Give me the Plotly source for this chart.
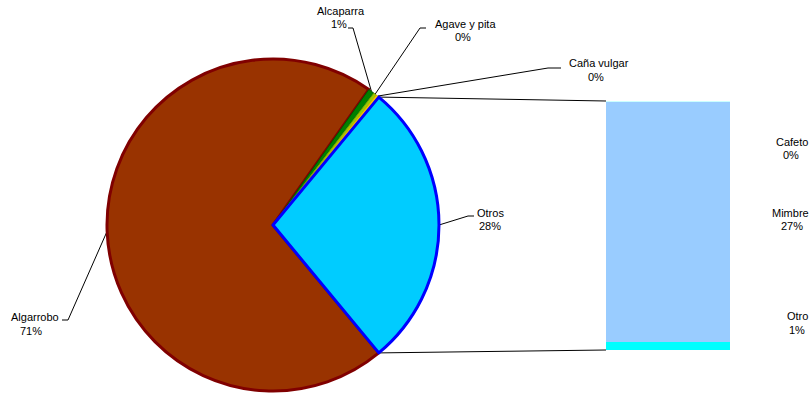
import math
import plotly.graph_objects as go

# data (percent of total)
pie_names = ["Algarrobo", "Alcaparra", "Agave y pita", "Caña vulgar", "Otros"]
bar_names = ["Otro", "Mimbre", "Cafeto"]          # bottom -> top of the bar
bar_values = [0.9, 27.07, 0.03]
pie_main_values = [70.8, 0.6, 0.3, 0.3]
pie_values = pie_main_values + [sum(bar_values)]   # "Otros" = whole bar

total = sum(pie_values)

pie_colors = ["#993300", "#008000", "#99CC00", "#FFCC00", "#00CCFF"]
pie_line_colors = ["#800000", "#005800", "#77A000", "#E0A800", "#0000FF"]
pie_line_widths = [3, 1, 1, 1, 3]
bar_colors = ["#00FFFF", "#99CCFF", "#CCFFFF"]

W, H = 811, 396
CX, CY, R = 273, 225, 166
BAR_L, BAR_R, BAR_T, BAR_B = 606, 730, 101, 350
FONT = "Liberation Sans, Arial, sans-serif"

# pie rotated so that "Otros" is centred on the right (3 o'clock)
rotation = 90 + 180 * pie_values[-1] / total


def edge(theta):
    t = math.radians(theta)
    return CX + R * math.sin(t), CY - R * math.cos(t)


# slice start/mid angles (clockwise from 12 o'clock)
starts, mids = [], []
a = rotation
for v in pie_values:
    span = 360 * v / total
    starts.append(a)
    mids.append(a + span / 2)
    a += span

fig = go.Figure()

fig.add_trace(go.Pie(
    labels=pie_names, values=pie_values, sort=False, direction="clockwise",
    rotation=rotation, textinfo="none", hoverinfo="label+percent",
    marker=dict(colors=pie_colors,
                line=dict(color=pie_line_colors, width=pie_line_widths)),
    domain=dict(x=[(CX - R) / W, (CX + R) / W],
                y=[1 - (CY + R) / H, 1 - (CY - R) / H]),
    showlegend=False,
))

for name, v, c in zip(bar_names, bar_values, bar_colors):
    fig.add_trace(go.Bar(x=[0], y=[v], width=1, name=name, marker_color=c,
                         marker_line_width=0, showlegend=False,
                         xaxis="x", yaxis="y"))

# leader lines: text end -> elbow -> slice edge
leaders = {
    "Algarrobo": [(62, 320), (68, 320)],
    "Alcaparra": [(348, 28), (353, 28)],
    "Agave y pita": [(426, 28), (420, 28)],
    "Caña vulgar": [(561, 68), (548, 68)],
    "Otros": [(474, 216), (468, 216)],
}
for i, name in enumerate(pie_names):
    pts = leaders[name] + [edge(mids[i])]
    fig.add_trace(go.Scatter(x=[p[0] for p in pts], y=[p[1] for p in pts],
                             mode="lines", line=dict(color="black", width=1),
                             hoverinfo="skip", showlegend=False,
                             xaxis="x2", yaxis="y2"))

# connectors from the "Otros" slice to the bar
top = edge(starts[-1])
bot = edge(starts[-1] + 360 * pie_values[-1] / total)
for p, by in [(top, BAR_T), (bot, BAR_B)]:
    fig.add_trace(go.Scatter(x=[p[0], BAR_L], y=[p[1], by], mode="lines",
                             line=dict(color="black", width=1),
                             hoverinfo="skip", showlegend=False,
                             xaxis="x2", yaxis="y2"))

# label positions: (x name, y name, x pct, y pct)
label_pos = {
    "Algarrobo": (35, 317, 31, 331),
    "Alcaparra": (341, 11, 339, 24),
    "Agave y pita": (465, 24, 463, 37),
    "Caña vulgar": (599, 63, 596, 77),
    "Otros": (490, 213, 490, 226),
    "Cafeto": (792, 142, 791, 155),
    "Mimbre": (790, 213, 792, 226),
    "Otro": (797, 316, 797, 330),
}
all_names = pie_names + bar_names
all_values = pie_values + bar_values
annotations = []
for name, v in zip(all_names, all_values):
    xn, yn, xp, yp = label_pos[name]
    for txt, x, y in [(name, xn, yn), (f"{round(100 * v / total)}%", xp, yp)]:
        annotations.append(dict(text=txt, x=x, y=y, xref="x2", yref="y2",
                                showarrow=False, xanchor="center",
                                yanchor="middle",
                                font=dict(family=FONT, size=11, color="#000000")))

fig.update_layout(
    width=W, height=H,
    margin=dict(l=0, r=0, t=0, b=0),
    paper_bgcolor="white", plot_bgcolor="rgba(0,0,0,0)",
    barmode="stack",
    xaxis=dict(domain=[BAR_L / W, BAR_R / W], range=[-0.5, 0.5],
               visible=False, fixedrange=True),
    yaxis=dict(domain=[1 - BAR_B / H, 1 - BAR_T / H],
               range=[0, pie_values[-1]], visible=False, fixedrange=True),
    xaxis2=dict(domain=[0, 1], range=[0, W], visible=False,
                fixedrange=True, anchor="y2"),
    yaxis2=dict(domain=[0, 1], range=[H, 0], visible=False,
                fixedrange=True, anchor="x2"),
    annotations=annotations,
)

fig.write_html("out.html", config={"displayModeBar": False},
               post_script="document.body.style.margin='0';")
